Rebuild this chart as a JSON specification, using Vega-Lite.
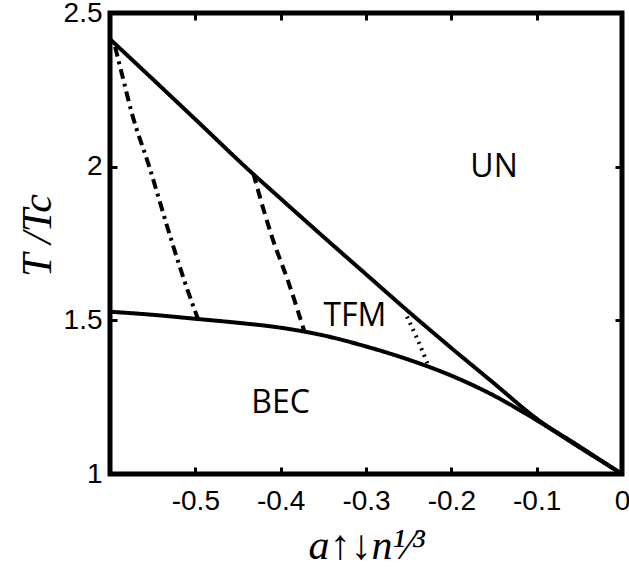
{
  "$schema": "https://vega.github.io/schema/vega-lite/v6.json",
  "width": 512,
  "height": 461,
  "autosize": {"type": "none"},
  "padding": {"left": 110, "top": 13, "right": 7, "bottom": 108},
  "background": "white",
  "config": {"view": {"stroke": "black", "strokeWidth": 5}},
  "datasets": {
    "curves": [
      {"curve": "upper", "x": -0.6, "y": 2.415},
      {"curve": "upper", "x": -0.55, "y": 2.285},
      {"curve": "upper", "x": -0.5, "y": 2.154},
      {"curve": "upper", "x": -0.433, "y": 1.978},
      {"curve": "upper", "x": -0.4, "y": 1.896},
      {"curve": "upper", "x": -0.35, "y": 1.772},
      {"curve": "upper", "x": -0.3, "y": 1.65},
      {"curve": "upper", "x": -0.245, "y": 1.516},
      {"curve": "upper", "x": -0.2, "y": 1.41},
      {"curve": "upper", "x": -0.15, "y": 1.295},
      {"curve": "upper", "x": -0.1, "y": 1.18},
      {"curve": "upper", "x": -0.05, "y": 1.09},
      {"curve": "upper", "x": 0, "y": 1.0},
      {"curve": "lower", "x": -0.6, "y": 1.528},
      {"curve": "lower", "x": -0.55, "y": 1.518},
      {"curve": "lower", "x": -0.5, "y": 1.505},
      {"curve": "lower", "x": -0.45, "y": 1.492},
      {"curve": "lower", "x": -0.4, "y": 1.476},
      {"curve": "lower", "x": -0.35, "y": 1.451},
      {"curve": "lower", "x": -0.3, "y": 1.415},
      {"curve": "lower", "x": -0.25, "y": 1.372},
      {"curve": "lower", "x": -0.2, "y": 1.32},
      {"curve": "lower", "x": -0.15, "y": 1.255},
      {"curve": "lower", "x": -0.1, "y": 1.175},
      {"curve": "lower", "x": -0.05, "y": 1.087},
      {"curve": "lower", "x": 0, "y": 1.0},
      {"curve": "dashdot", "x": -0.594, "y": 2.39},
      {"curve": "dashdot", "x": -0.585, "y": 2.29},
      {"curve": "dashdot", "x": -0.575, "y": 2.18},
      {"curve": "dashdot", "x": -0.554, "y": 2.0},
      {"curve": "dashdot", "x": -0.528, "y": 1.76},
      {"curve": "dashdot", "x": -0.513, "y": 1.63},
      {"curve": "dashdot", "x": -0.497, "y": 1.505},
      {"curve": "dashed", "x": -0.432, "y": 1.978},
      {"curve": "dashed", "x": -0.42, "y": 1.86},
      {"curve": "dashed", "x": -0.41, "y": 1.77},
      {"curve": "dashed", "x": -0.391, "y": 1.625},
      {"curve": "dashed", "x": -0.372, "y": 1.462},
      {"curve": "dotted", "x": -0.252, "y": 1.512},
      {"curve": "dotted", "x": -0.24, "y": 1.44},
      {"curve": "dotted", "x": -0.228, "y": 1.36}
    ],
    "labels": [
      {"label": "UN", "x": -0.15, "y": 2.0},
      {"label": "TFM", "x": -0.313, "y": 1.514},
      {"label": "BEC", "x": -0.4, "y": 1.23}
    ]
  },
  "layer": [
    {
      "data": {"name": "curves"},
      "mark": {"type": "line", "color": "black", "clip": true, "interpolate": "monotone"},
      "encoding": {
        "x": {
          "field": "x", "type": "quantitative",
          "scale": {"domain": [-0.6, 0], "nice": false, "zero": false},
          "axis": {
            "values": [-0.5, -0.4, -0.3, -0.2, -0.1, 0],
            "labelExpr": "datum.value == 0 ? '0' : '-' + format(-datum.value, '.1f')",
            "domain": false, "grid": false,
            "tickSize": -7, "tickWidth": 3, "tickColor": "black",
            "labelFont": "Liberation Sans", "labelFontSize": 28, "labelColor": "black",
            "labelPadding": 20, "labelFlush": false,
            "title": "a↑↓n¹⁄³",
            "titleFont": "Liberation Serif", "titleFontStyle": "italic", "titleFontWeight": "normal",
            "titleFontSize": 42, "titleColor": "black", "titlePadding": 10
          }
        },
        "y": {
          "field": "y", "type": "quantitative",
          "scale": {"domain": [1, 2.5], "nice": false, "zero": false},
          "axis": {
            "values": [1, 1.5, 2, 2.5],
            "labelExpr": "'' + datum.value",
            "domain": false, "grid": false,
            "tickSize": -7, "tickWidth": 3, "tickColor": "black",
            "labelFont": "Liberation Sans", "labelFontSize": 28, "labelColor": "black",
            "labelPadding": 15, "labelFlush": false,
            "title": "T /Tc",
            "titleFont": "Liberation Serif", "titleFontStyle": "italic", "titleFontWeight": "normal",
            "titleFontSize": 42, "titleColor": "black", "titlePadding": 4, "titleY": 222
          }
        },
        "detail": {"field": "curve"},
        "strokeDash": {
          "field": "curve", "type": "nominal",
          "scale": {"domain": ["upper", "lower", "dashdot", "dashed", "dotted"],
                    "range": [[1, 0], [1, 0], [10, 5, 3, 5], [10, 6], [2, 5]]},
          "legend": null
        },
        "strokeWidth": {
          "field": "curve", "type": "nominal",
          "scale": {"domain": ["upper", "lower", "dashdot", "dashed", "dotted"],
                    "range": [4, 4, 3.5, 3.5, 2.5]},
          "legend": null
        }
      }
    },
    {
      "data": {"name": "labels"},
      "mark": {"type": "text", "font": "Open Sans", "fontSize": 32, "color": "black"},
      "encoding": {
        "x": {
          "field": "x", "type": "quantitative",
          "scale": {"domain": [-0.6, 0], "nice": false, "zero": false},
          "axis": {"orient": "top", "values": [-0.5, -0.4, -0.3, -0.2, -0.1], "labels": false,
                   "domain": false, "grid": false, "title": null,
                   "tickSize": -7, "tickWidth": 3, "tickColor": "black"}
        },
        "y": {
          "field": "y", "type": "quantitative",
          "scale": {"domain": [1, 2.5], "nice": false, "zero": false},
          "axis": {"orient": "right", "values": [1.5, 2], "labels": false,
                   "domain": false, "grid": false, "title": null,
                   "tickSize": -7, "tickWidth": 3, "tickColor": "black"}
        },
        "text": {"field": "label"}
      }
    }
  ],
  "resolve": {"axis": {"x": "independent", "y": "independent"}}
}
